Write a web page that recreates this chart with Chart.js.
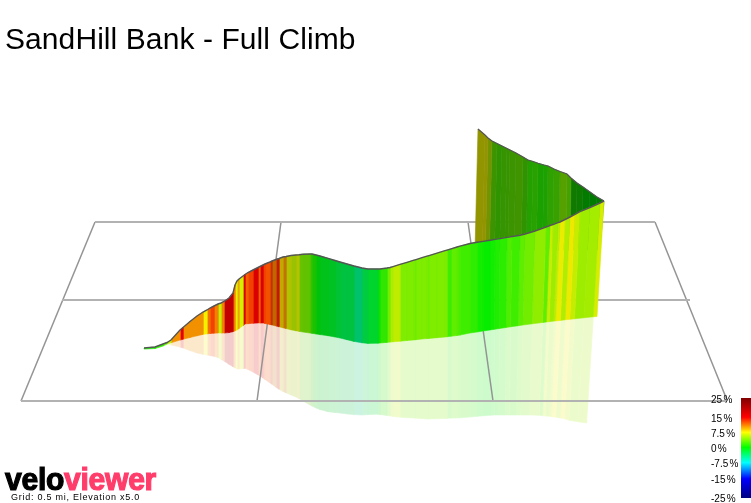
<!DOCTYPE html>
<html>
<head>
<meta charset="utf-8">
<title>SandHill Bank - Full Climb</title>
<script src="https://cdn.jsdelivr.net/npm/chart.js@4"></script>
<style>
    html, body { margin: 0; padding: 0; background: #fff; }
    #wrap { position: relative; width: 751px; height: 503px; overflow: hidden; font-family: "Liberation Sans", Arial, sans-serif; }
    canvas { position: absolute; left: 0; top: 0; }
    .txt { position: absolute; white-space: pre; color: #000; }
    #title { left: 5px; top: 23px; font-size: 30px; line-height: 32px; letter-spacing: 0.08px; }
    #logo { left: 5px; top: 463px; font-size: 32px; line-height: 32px; font-weight: bold; letter-spacing: -0.3px; -webkit-text-stroke: 1.2px; transform: scaleX(0.94); transform-origin: left; }
    #logo span { color: #ff3d6b; }
    #note { left: 11px; top: 492px; font-size: 9px; line-height: 11px; letter-spacing: 0.75px; }
    .tick { left: 711px; font-size: 10px; line-height: 12px; word-spacing: -1.5px; }
</style>
</head>
<body>
<div id="wrap">
    <canvas id="er-climb" width="751" height="503"></canvas>
    <div class="txt" id="title">SandHill Bank - Full Climb</div>
    <div class="txt" id="logo">velo<span>viewer</span></div>
    <div class="txt" id="note">Grid: 0.5 mi, Elevation x5.0</div>
</div>
<script>
// front face of the climb, one entry per station along the road
var topX = [144,155,163,167,171, 180,183,190,197,203, 207,210,214,218,221, 224,229,233,235,237, 239,243,245,248,253, 258,260,263,265,270, 272,276,279,283,286, 291,296,299,303,310, 312,316,320,328,335, 340,347,354,362,368, 378,380,387,390,393, 400,407,414,416,422, 427,429,437,445,447, 451,457,460,470,477, 483,490,495,500,507, 512,520,525,535,546, 550,553,558,560,565, 570,575,580,590,600, 604];
var topY = [348,347,344,342.5,340, 330,327.5,321.5,316,312, 310,308,306,304,303, 301.5,298,293,285,281, 279,276,274.5,272.5,270, 267.5,266.5,265,264,262, 261,259.5,258.5,257,256.5, 255.5,255,254.7,254.2,254, 254,255,256,258.3,260.5, 262,264,266,268,269, 269,269,268,267.5,266.6, 264.4,262.3,260.2,259.6,257.7, 256.2,255.6,253.2,250.7,250.1, 248.9,247,246.1,243.5,242.3, 241.4,240.2,239.4,238.6,237.4, 236.5,235.2,234,231,227, 225.5,224.5,222.7,222,219.5, 217,214.4,211.6,207.5,203, 201];
var baseX = [144,155,163,167,171, 180,183,190,197,203, 207,210,214,218,221, 224,229,233,235,237, 239,243,245,248,253, 258,260,263,265,270, 272,276,279,283,286, 291,296,299,303,310, 312,316,320,328,335, 340,347,354,362,368, 378,380,387,390,393, 400,407,414,416,422, 427,429,437,445,447, 451,457,460,470,477, 483,490,494.7,499.4,506, 510.6,518.2,522.9,532.2,542.6, 546.3,549.1,553.8,555.7,560.4, 565.1,569.8,574.5,583.9,593.2, 597];
var baseY = [349,348.5,346,344,342.8, 340,339.3,337.5,335.8,334.4, 333.8,333.5,333.2,333,333, 333,332.6,331.7,331,330, 328.5,325.5,324,323.7,323.2, 323,323,323,323.5,324.5, 325,326,326.8,327.8,328.5, 329.8,330.8,331.3,332,333, 333.3,334,334.6,335.7,337, 338,339.7,341.4,342.8,343.4, 343.2,343,342.4,342.1,341.8, 341.2,340.5,339.9,339.7,339, 338.6,338.4,337.7,337,336.8, 336.2,335.5,335.1,333,332, 331,330,329.2,328.5,327.5, 326.8,325.7,325,323.8,322.5, 322,321.7,321.1,320.9,320.4, 319.8,319.3,318.8,317.8,316.8, 316.5];

// mirror image on the ground
var reflX = [144,155,163,167,171, 180,183,190,197,203, 207,210,214,218,221, 224,229,233,235,237, 239,243,245,248,253, 258,260,263,265,270, 272,276,279,283,286, 291,296,299,303,310, 312,316,320,328,335, 340,347,354,362,368, 378,380,387,390,393, 400,407,414,416,422, 427,429,437,445,447, 451,457,460,470,477, 483,490,494.4,498.8,505, 509.3,516.4,520.7,529.4,539.2, 542.6,545.2,549.6,551.4,555.8, 560.2,564.6,569,577.8,586.5, 590];
var reflY = [349,348.5,346,344.5,345, 347,348,350.5,353,354.3, 355,355.5,356.3,357.5,359.3, 361,364.3,366.8,367.8,369, 369,368.5,368.3,369.5,372, 375,376,378,379.4,382.9, 384.3,387.2,389.3,391.4,392.8, 395,397,398.5,401,405, 406,408,409.5,411.7,412.5, 413,413.9,414.6,415,414.6, 414.2,414.5,415.5,415.8,416.5, 417.2,417.7,418,418.2,418.6, 418.9,419,418.7,418.4,418.3, 418.1,418,417.8,417,416.3, 415.8,415.2,415,415,415, 415,415,415,415,415.3, 415.6,416,416.2,416.8,417.2, 418,418.7,420.3,421.8,423];

// gradient (%) of the stretch that starts at each station
var frontGrades = [1,1.5,3,6,10.5, 16,10.5,10.5,10.5,7.5, 11.5,13,11,6,11, 19,19,11,7,10, 6.5,17,12,13,17, 12,17,13,12.5,13, 11,14,8.5,10.5,6.8, 6,7,4,3.7,2, 1,-0.5,-1,-1.3,-2, -2.5,-2.5,-4.2,-2.3,-1.6, 0.5,1.6,3.7,5.5,6, 4,4,3.5,4,4, 3.6,4,4,4,2, 3,2.5,2,1.5,0.6, 0.2,0.6,1,1.4,2.5, 2,3,3.6,4.6,3, 6.3,5,6,7.4,5.6, 7.6,6.2,5,5.2,6.8];

// far face, after the hairpin at the right
var backTopX = [478,485,488,492,497,502,507,510,516,523,528,533,538,544,548,554,560,567,571,577,583,590,597,604];
var backTopY = [129,135,138,141,143.5,146,148.5,150,153,157,160,161.5,163.3,165,166,169,171.5,174,178,183,187,192,197,201];
var backBaseX = [475,482.3,485.3,489.4,494.5,499.6,504.6,507.7,513.8,521,526,531.2,536.3,542.4,546.5,552.6,558.7,565.8,569.9,576,582,587,594,600];
var backBaseY = [250,250,250,250,250,250,250,250,250,250,250,250,250,250,250,250,250,250,250,250,250,250,250,250];
var backGrades = [7.4,7.4,5.8,3,2.4,2.7,2.8,3,3.2,2.4,1.7,1.9,1.2,1.4,2.2,2.6,4,3.2,1,0.8,0.2,0,0.1];

// ground grid
var gridFlatX = [[95,655],[62,690],[21,727]];
var gridFlatY = [[222,222],[300,300],[401,401]];
var gridSlantX = [[95,21],[281,257],[468,493],[655,727]];
var gridSlantY = [[222,401],[222,401],[222,401],[222,400]];

// colour key
var keyGrades = [25,15,7.5,0,-7.5,-15,-25];
var keyLabels = ['25 %','15 %','7.5 %','0 %','-7.5 %','-15 %','-25 %'];
var keyLabelY = [400,419,434,449,464,480,499];
var keyBarX = [741,751,751,741];
var keyBarY = [398,398,498,498];

var ramp = [[25,128,0,0],[15,255,0,0],[7.5,255,255,0],[0,0,255,0],[-7.5,0,255,255],[-15,0,0,255],[-25,0,0,128]];

function rampRgb(g) {
    for (var i = 1; i < ramp.length; i++) {
        if (g >= ramp[i][0]) {
            var a = ramp[i - 1], b = ramp[i], t = (g - b[0]) / (a[0] - b[0]);
            return [0, 1, 2].map(function (k) { return b[k + 1] + (a[k + 1] - b[k + 1]) * t; });
        }
    }
    return [0, 0, 128];
}

// rough light falloff along the wall, the road changes heading
function frontShade(x) {
    if (x < 268) return 0.95;
    if (x < 355) return 0.76;
    if (x < 385) return 0.76 + (x - 355) / 30 * 0.17;
    return 0.93;
}
function backShade(x) {
    if (x < 525) return 0.58;
    if (x < 570) return 0.63;
    return 0.48;
}
function css(rgb) {
    return 'rgb(' + rgb.map(Math.round).join(',') + ')';
}
function shaded(g, s) {
    return rampRgb(g).map(function (c) { return c * s; });
}
function pale(rgb) {
    return rgb.map(function (c) { return 255 - (255 - c) * 0.2; });
}

function quad(xa, ya, xb, yb, i, colour, order) {
    return {
        data: [
            { x: xa[i], y: ya[i] }, { x: xa[i + 1], y: ya[i + 1] },
            { x: xb[i + 1], y: yb[i + 1] }, { x: xb[i], y: yb[i] }, { x: xa[i], y: ya[i] }
        ],
        showLine: true, fill: 'shape', tension: 0, pointRadius: 0,
        backgroundColor: colour, borderColor: colour, borderWidth: 0.6, order: order
    };
}
function path(xs, ys, colour, width, order) {
    return {
        data: xs.map(function (x, i) { return { x: x, y: ys[i] }; }),
        showLine: true, fill: false, tension: 0, pointRadius: 0,
        borderColor: colour, borderWidth: width, order: order
    };
}

var sets = [];
frontGrades.forEach(function (g, i) {
    var rgb = shaded(g, frontShade(topX[i]));
    sets.push(quad(topX, topY, baseX, baseY, i, css(rgb), 2));
    sets.push(quad(baseX, baseY, reflX, reflY, i, css(pale(rgb)), 5));
});
backGrades.forEach(function (g, i) {
    sets.push(quad(backTopX, backTopY, backBaseX, backBaseY, i, css(shaded(g, backShade(backTopX[i]))), 3));
});
gridFlatX.forEach(function (xs, i) { sets.push(path(xs, gridFlatY[i], '#b2b2b2', 2, 4)); });
gridSlantX.forEach(function (xs, i) { sets.push(path(xs, gridSlantY[i], '#949494', 1.5, 4)); });
sets.push(path(topX, topY, '#555', 1.4, 1));
sets.push(path(backTopX, backTopY, '#555', 1.2, 1));

var canvas = document.getElementById('er-climb');
var ctx = canvas.getContext('2d');

// the scales fill the canvas one to one, so the key gradient can use its values directly
var keyFill = ctx.createLinearGradient(0, keyBarY[0], 0, keyBarY[2]);
keyGrades.forEach(function (g, i) {
    keyFill.addColorStop((keyLabelY[i] - keyLabelY[0]) / (keyLabelY[6] - keyLabelY[0]), css(rampRgb(g)));
});
sets.push({
    data: keyBarX.map(function (x, i) { return { x: x, y: keyBarY[i] }; }),
    showLine: true, fill: 'shape', pointRadius: 0, borderWidth: 0, order: 0,
    backgroundColor: keyFill
});

new Chart(ctx, {
    type: 'scatter',
    data: { datasets: sets },
    options: {
        responsive: false,
        animation: false,
        events: [],
        layout: { padding: 0 },
        plugins: { legend: { display: false }, title: { display: false }, tooltip: { enabled: false } },
        scales: {
            x: { type: 'linear', min: 0, max: 751, display: false },
            y: { type: 'linear', min: 0, max: 503, reverse: true, display: false }
        }
    }
});

keyLabels.forEach(function (label, i) {
    var el = document.createElement('div');
    el.className = 'txt tick';
    el.style.top = (keyLabelY[i] - 6) + 'px';
    el.textContent = label;
    document.getElementById('wrap').appendChild(el);
});
</script>
</body>
</html>
